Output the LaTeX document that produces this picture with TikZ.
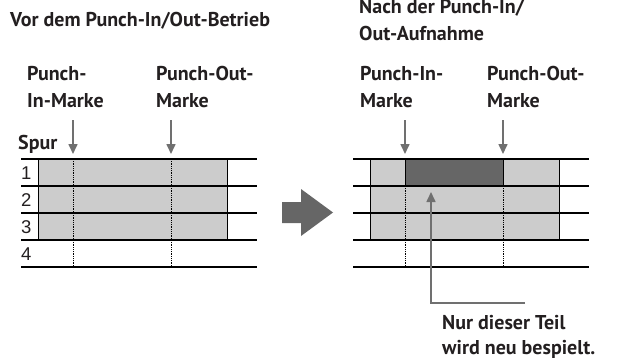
\documentclass[tikz,border=0pt]{standalone}
\usepackage{fontspec}
\setmainfont{PT Sans}
\newfontfamily\numfont{Liberation Sans}
\usepackage{tikz}
\usetikzlibrary{arrows.meta,positioning}
\definecolor{inkgray}{HTML}{231F20}
\definecolor{trackfill}{HTML}{CCCCCC}
\definecolor{newfill}{HTML}{666666}
\definecolor{markgray}{HTML}{707070}

\begin{document}
\begin{tikzpicture}[x=1pt,y=-1pt,
			label/.style={inkgray,anchor=base west,inner sep=0pt,align=left,font=\fontsize{20}{27}\selectfont\bfseries},
			tracknum/.style={inkgray,anchor=base west,inner sep=0pt,font=\numfont\fontsize{18.5}{20}\selectfont},
			trackline/.style={black,line width=2pt},
			region/.style={draw=black,line width=0.8pt},
			cutline/.style={black,line width=0.8pt,densely dotted},
			markarrow/.style={markgray,line width=1.6pt,-{Triangle[length=10pt,width=9pt]}}
			]
			\useasboundingbox (0,0) rectangle (627,361);
			% headings (base = last line)
			\node[label] (before) at (10,27) {Vor dem Punch-In/Out-Betrieb};
			\node[label] (after) at (359,41) {Nach der Punch-In/\\Out-Aufnahme};
			\node[label] (inL) at (27,107) {Punch-\\In-Marke};
			\node[label] (outL) at (156,107) {Punch-Out-\\Marke};
			\node[label] (inR) at (360,107) {Punch-In-\\Marke};
			\node[label] (outR) at (487,107) {Punch-Out-\\Marke};
			\node[label] (spur) at (18,149) {Spur};
			% left panel
			\fill[trackfill] (38,159) rectangle (227,240);
			\draw[region] (38,159) rectangle (227,240);
			\draw[cutline] (73,159) -- (73,267);
			\draw[cutline] (171,159) -- (171,267);
			\foreach \y in {159,186,213,240,267}
				\draw[trackline] (21,\y) -- (257,\y);
			\foreach \n/\y in {1/179,2/206,3/233,4/260}
				\node[tracknum] (num\n) at (21,\y) {\n};
			\coordinate (inLtop) at (73,120);
			\coordinate (inLtip) at (73,154);
			\coordinate (outLtop) at (171,120);
			\coordinate (outLtip) at (171,154);
			\draw[markarrow] (inLtop) -- (inLtip);
			\draw[markarrow] (outLtop) -- (outLtip);
			% big arrow
			\fill[newfill] (282,202) -- (301,202) -- (301,189) -- (333,212.5) -- (301,236) -- (301,223) -- (282,223) -- cycle;
			% right panel
			\fill[trackfill] (370,159) rectangle (559,240);
			\draw[region] (370,159) rectangle (559,240);
			\fill[newfill] (405,159) rectangle (503,186);
			\draw[region] (405,159) rectangle (503,186);
			\draw[cutline] (405,186) -- (405,267);
			\draw[cutline] (503,186) -- (503,267);
			\foreach \y in {159,186,213,240,267}
				\draw[trackline] (353,\y) -- (589,\y);
			\coordinate (inRtop) at (405,120);
			\coordinate (inRtip) at (405,154);
			\coordinate (outRtop) at (503,120);
			\coordinate (outRtip) at (503,154);
			\draw[markarrow] (inRtop) -- (inRtip);
			\draw[markarrow] (outRtop) -- (outRtip);
			% callout
			\node[label,font=\fontsize{20}{25}\selectfont\bfseries] (newpart) at (442,354) {Nur dieser Teil\\wird neu bespielt.};
			\coordinate (callend) at (525,303);
			\coordinate (calltip) at (431,192);
			\draw[markarrow] (callend) -- (431,303) -- (calltip);
		\end{tikzpicture}
\end{document}
